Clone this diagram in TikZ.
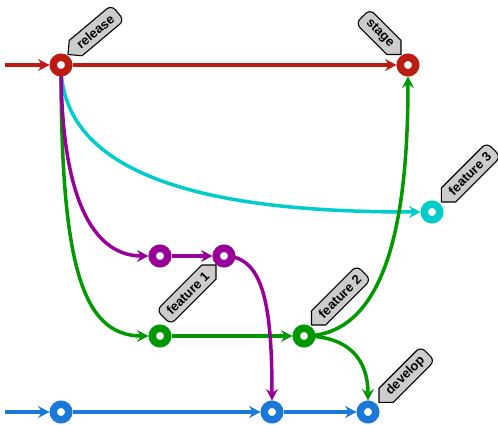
\documentclass[tikz,border=0pt]{standalone}
\usepackage{fontspec}
\setmainfont{Liberation Sans}
\usetikzlibrary{arrows.meta,calc}
\pgfdeclarelayer{bg}
\pgfsetlayers{bg,main}
\definecolor{cred}{HTML}{BA1B12}
\definecolor{cgreen}{HTML}{009900}
\definecolor{ccyan}{HTML}{00CCCC}
\definecolor{cpurple}{HTML}{990099}
\definecolor{cblue}{HTML}{1A78D8}
\definecolor{taggray}{HTML}{CCCCCC}
\newcommand\tagfont{\bfseries\fontsize{13}{15}\selectfont}
% #1 commit node, #2 tip offset, #3 axis angle, #4 text angle, #5 text, #6 text width
\newcommand\committag[6]{%
  \pgfmathsetmacro\tagL{#6+20}%
  \pgfmathsetmacro\tagC{13+#6/2}%
  \begin{scope}[shift={($(#1)+(#2)$)}, rotate=#3]
    \draw[tagshape] (0,0) -- (10,10) -- (\tagL-6,10)
      arc[start angle=90,end angle=0,radius=6] -- (\tagL,-4)
      arc[start angle=0,end angle=-90,radius=6] -- (10,-10) -- cycle;
    \node[tagtext, rotate=#4] (tag-#1) at (\tagC,0) {#5};
  \end{scope}}
\begin{document}
\begin{tikzpicture}[x=1pt,y=1pt,
  commit/.style={circle, draw=#1, fill=white, line width=7.5pt,
    minimum size=15.5pt, inner sep=0pt},
  branch/.style={draw=#1, line width=3.5pt,
    -{Stealth[length=11.5pt,width=12pt,inset=4pt]}},
  tagshape/.style={draw=black, fill=taggray, line width=1.1pt, line join=round},
  tagtext/.style={font=\tagfont, inner sep=0pt, text=black}]
\useasboundingbox (0,0) rectangle (498,-425);
% commits
\node[commit=cred] (release) at (61,-65) {};
\node[commit=cred] (stage) at (408,-65) {};
\node[commit=ccyan] (feat3) at (432,-212) {};
\node[commit=cpurple] (f1a) at (160,-256) {};
\node[commit=cpurple] (f1b) at (224,-256) {};
\node[commit=cgreen] (f2a) at (160,-336) {};
\node[commit=cgreen] (f2b) at (304,-336) {};
\node[commit=cblue] (d1) at (61,-412) {};
\node[commit=cblue] (d2) at (272,-412) {};
\node[commit=cblue] (d3) at (368,-412) {};
\coordinate (rin) at (5,-65);
\coordinate (bin) at (5,-412);
% connectors
\begin{pgfonlayer}{bg}
\draw[branch=cred] (rin) -- (release);
\draw[branch=cred] (release) -- (stage);
\draw[branch=ccyan] (release.center) .. controls +(0,-135) and +(-140,0) .. (feat3.west);
\draw[branch=cgreen] (release.center) .. controls +(0,-195) and +(-68,0) .. (f2a.west);
\draw[branch=cgreen] (f2a) -- (f2b);
\draw[branch=cgreen] (f2b.center) .. controls +(86,0) and +(0,-133) .. (stage.south);
\draw[branch=cgreen] (f2b.center) .. controls +(46,0) and +(0,40) .. (d3.north);
\draw[branch=cpurple] (release.center) .. controls +(0,-145) and +(-50,0) .. (f1a.west);
\draw[branch=cpurple] (f1a) -- (f1b);
\draw[branch=cpurple] (f1b.center) .. controls +(38,0) and +(0,100) .. (d2.north);
\draw[branch=cblue] (bin) -- (d1);
\draw[branch=cblue] (d1) -- (d2);
\draw[branch=cblue] (d2) -- (d3);
\end{pgfonlayer}
% tags
\committag{release}{7,10.5}{40}{40}{release}{45}
\committag{stage}{-7,10.5}{135}{-45}{stage}{34}
\committag{feat3}{9.4,10}{45}{45}{feature 3}{54}
\committag{f1b}{-8,-9}{225}{45}{feature 1}{54}
\committag{f2b}{7.5,11}{45}{45}{feature 2}{54}
\committag{d3}{11,9.6}{45}{45}{develop}{49}
\end{tikzpicture}
\end{document}
